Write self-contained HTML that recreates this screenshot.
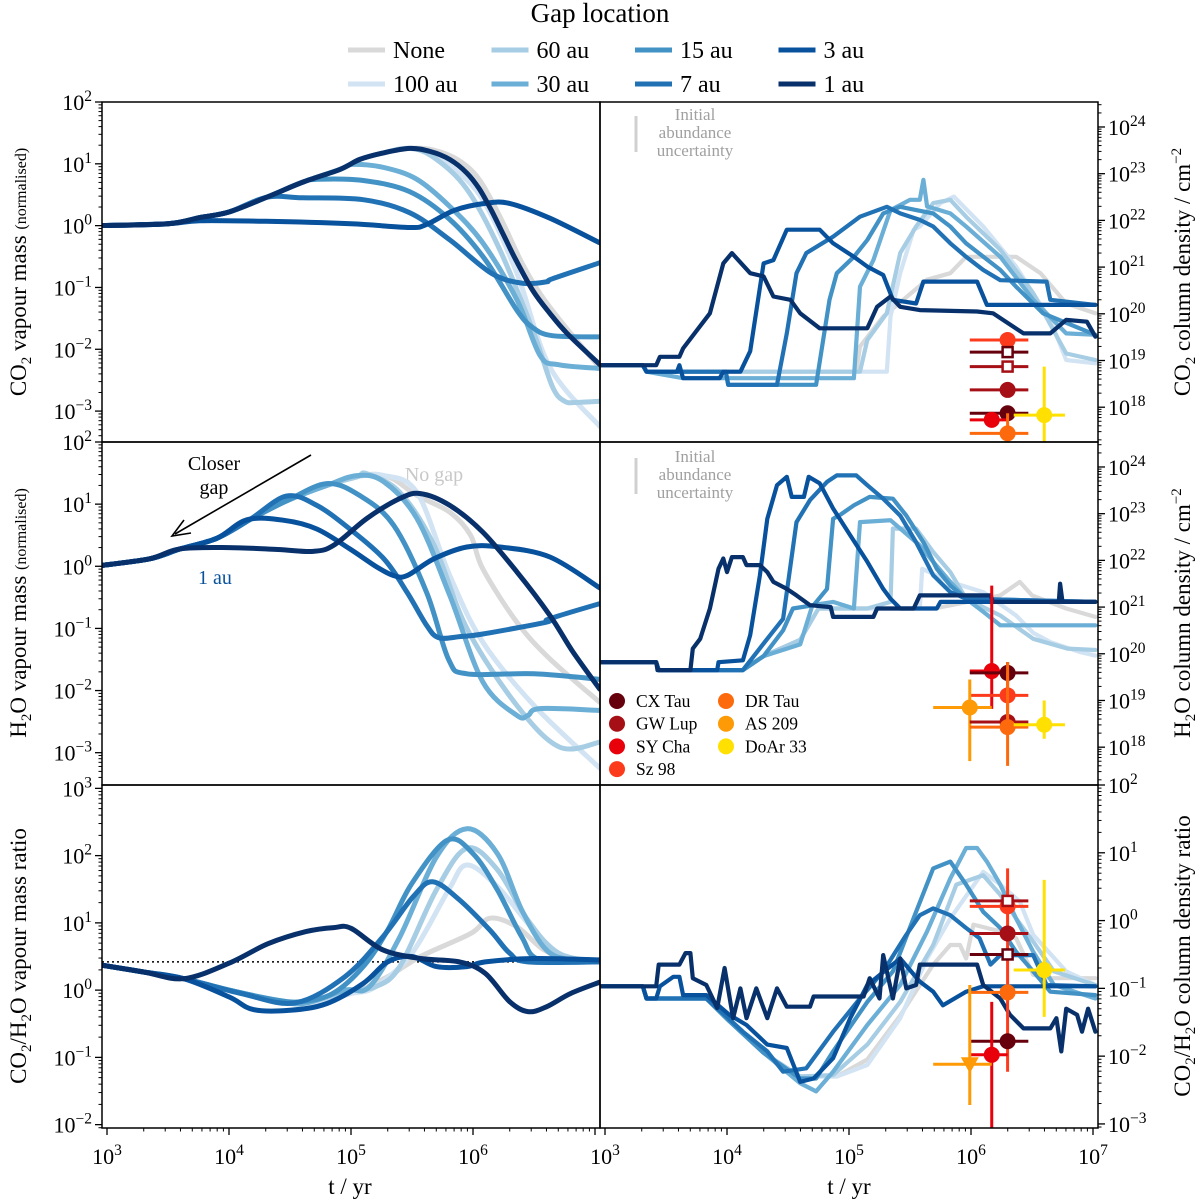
<!DOCTYPE html>
<html><head><meta charset="utf-8">
<style>
html,body{margin:0;padding:0;background:#fff;}
svg{display:block;font-family:"Liberation Serif","DejaVu Serif",serif;}
</style></head>
<body>
<svg id="fig" width="1200" height="1202" viewBox="0 0 1200 1202" xmlns="http://www.w3.org/2000/svg">
<rect x="0" y="0" width="1200" height="1202" fill="#fff"/>
<g id="legend">
<text x="600" y="22" font-size="27" text-anchor="middle">Gap location</text>
</g>
<text x="214" y="470" font-size="20" text-anchor="middle">Closer</text>
<text x="214" y="494" font-size="20" text-anchor="middle">gap</text>
<g>
<line x1="311" y1="455" x2="175" y2="534" stroke="#000" stroke-width="1.6"/>
<polyline points="184,520 172,536 191,533" fill="none" stroke="#000" stroke-width="1.6"/>
</g>
<text x="434" y="481" font-size="20" fill="#c8c8c8" text-anchor="middle">No gap</text>
<text x="215" y="584" font-size="20" fill="#08519c" text-anchor="middle">1 au</text>
<g>
<line x1="636" y1="116" x2="636" y2="152" stroke="#d0d0d0" stroke-width="3"/>
<text x="695" y="120" font-size="17" fill="#a0a0a0" text-anchor="middle">Initial</text>
<text x="695" y="138" font-size="17" fill="#a0a0a0" text-anchor="middle">abundance</text>
<text x="695" y="156" font-size="17" fill="#a0a0a0" text-anchor="middle">uncertainty</text>
</g>
<g>
<line x1="636" y1="458" x2="636" y2="494" stroke="#d0d0d0" stroke-width="3"/>
<text x="695" y="462" font-size="17" fill="#a0a0a0" text-anchor="middle">Initial</text>
<text x="695" y="480" font-size="17" fill="#a0a0a0" text-anchor="middle">abundance</text>
<text x="695" y="498" font-size="17" fill="#a0a0a0" text-anchor="middle">uncertainty</text>
</g>
<g transform="translate(26,272) rotate(-90)"><text text-anchor="middle" font-size="23">CO<tspan font-size="15" dy="5">2</tspan><tspan dy="-5"> vapour mass </tspan><tspan font-size="16">(normalised)</tspan></text></g>
<g transform="translate(26,613) rotate(-90)"><text text-anchor="middle" font-size="23">H<tspan font-size="15" dy="5">2</tspan><tspan dy="-5">O vapour mass </tspan><tspan font-size="16">(normalised)</tspan></text></g>
<g transform="translate(26,956) rotate(-90)"><text text-anchor="middle" font-size="23">CO<tspan font-size="15" dy="5">2</tspan><tspan dy="-5">/H</tspan><tspan font-size="15" dy="5">2</tspan><tspan dy="-5">O vapour mass ratio</tspan></text></g>
<g transform="translate(1190,272) rotate(-90)"><text text-anchor="middle" font-size="23">CO<tspan font-size="15" dy="5">2</tspan><tspan dy="-5"> column density / cm</tspan><tspan font-size="15" dy="-9">−2</tspan></text></g>
<g transform="translate(1190,613) rotate(-90)"><text text-anchor="middle" font-size="23">H<tspan font-size="15" dy="5">2</tspan><tspan dy="-5">O column density / cm</tspan><tspan font-size="15" dy="-9">−2</tspan></text></g>
<g transform="translate(1190,956) rotate(-90)"><text text-anchor="middle" font-size="23">CO<tspan font-size="15" dy="5">2</tspan><tspan dy="-5">/H</tspan><tspan font-size="15" dy="5">2</tspan><tspan dy="-5">O column density ratio</tspan></text></g>
<text x="350" y="1194" font-size="23" text-anchor="middle">t / yr</text>
<text x="849" y="1194" font-size="23" text-anchor="middle">t / yr</text>
</svg>
<script>
// ---- data: [log10 t(yr), log10 value] ----
const seriesNames = ['None','100 au','60 au','30 au','15 au','7 au','3 au','1 au'];
const seriesColors = ['#d9d9d9','#d2e3f3','#a6cde3','#6baed6','#4292c6','#2171b5','#08519c','#08306b'];

const envCO2 = [[2.94,0],[3.5,0.03],[3.76,0.13],[4.0,0.22],[4.31,0.46],[4.6,0.7],[4.91,0.91],[5.07,1.07],[5.25,1.17],[5.48,1.25]];
const co2MassNone = [[5.68,1.22],[5.88,1.06],[6.05,0.75],[6.22,0.15],[6.4,-0.6],[6.55,-1.1],[6.75,-1.62],[7.04,-2.3]];
const co2Mass100 = [[5.65,1.2],[5.81,0.98],[6.08,0.42],[6.36,-0.77],[6.63,-2.29],[7.04,-3.25]];
const co2Mass60 = [[5.68,1.1],[5.95,0.59],[6.22,-0.39],[6.49,-1.69],[6.65,-2.6],[6.75,-2.84],[6.85,-2.86],[7.04,-2.84]];
const co2Mass30 = [[5.02,0.99],[5.27,0.94],[5.54,0.75],[5.81,0.31],[6.08,-0.28],[6.36,-1.2],[6.55,-2.1],[6.7,-2.25],[7.04,-2.31]];
const co2Mass15 = [[4.72,0.75],[5.1,0.73],[5.48,0.55],[5.81,0.1],[6.1,-0.55],[6.36,-1.37],[6.49,-1.65],[6.65,-1.78],[7.04,-1.8]];
const co2Mass7 = [[4.6,0.45],[5.1,0.42],[5.48,0.21],[5.81,-0.23],[6.15,-0.77],[6.4,-0.93],[6.6,-0.91],[6.65,-0.86],[7.04,-0.6]];
const co2Mass3 = [[2.94,0],[3.5,0.03],[3.76,0.08],[4.3,0.07],[5.0,0.03],[5.48,-0.03],[5.62,0.02],[5.85,0.25],[6.1,0.36],[6.3,0.36],[6.63,0.12],[7.04,-0.28]];
const co2Mass1 = [[5.65,1.2],[5.81,1.07],[5.95,0.85],[6.05,0.6],[6.15,0.25],[6.25,-0.15],[6.35,-0.55],[6.49,-1.05],[6.63,-1.42],[6.77,-1.74],[7.04,-2.25]];

const envH2O = [[2.94,0.01],[3.35,0.12],[3.6,0.28],[3.9,0.45],[4.17,0.75],[4.47,1.05],[4.8,1.3],[5.05,1.44],[5.2,1.48]];
const h2oMassNone = [[5.35,1.4],[5.54,1.14],[5.81,0.87],[5.98,0.5],[6.08,-0.04],[6.36,-0.9],[6.63,-1.49],[7.04,-2.19]];
const h2oMass100 = [[5.27,1.46],[5.54,1.19],[5.81,-0.15],[6.08,-1.22],[6.5,-2.24],[7.04,-3.25]];
const h2oMass60 = [[5.13,1.49],[5.40,1.19],[5.68,0.34],[5.95,-1.0],[6.36,-2.24],[6.71,-2.91],[7.04,-2.83]];
const h2oMass30 = [[5.05,1.46],[5.27,1.36],[5.54,0.77],[5.81,-0.47],[6.08,-1.86],[6.36,-2.4],[6.45,-2.4],[6.55,-2.29],[7.04,-2.32]];
const h2oMass15 = [[4.8,1.33],[5.07,1.14],[5.35,0.66],[5.62,-0.42],[5.8,-1.5],[5.95,-1.73],[6.5,-1.73],[7.04,-1.82]];
const h2oMass7 = [[4.47,1.13],[4.72,0.98],[4.99,0.6],[5.27,0.12],[5.46,-0.42],[5.62,-0.95],[5.72,-1.15],[5.9,-1.13],[6.08,-1.09],[6.6,-0.9],[6.62,-0.85],[7.04,-0.6]];
const h2oMass3 = [[4.15,0.75],[4.45,0.74],[4.72,0.6],[4.99,0.28],[5.21,-0.01],[5.35,-0.15],[5.46,-0.15],[5.68,0.12],[5.95,0.31],[6.22,0.31],[6.63,0.15],[7.04,-0.35]];
const h2oMass1 = [[2.94,0.01],[3.35,0.12],[3.6,0.28],[4.0,0.3],[4.4,0.27],[4.69,0.24],[4.86,0.34],[5.13,0.77],[5.4,1.09],[5.57,1.17],[5.81,0.98],[6.08,0.55],[6.36,-0.09],[6.63,-0.79],[6.82,-1.38],[7.04,-1.98]];

const ratioStart = [[2.96,0.37],[3.3,0.27],[3.63,0.17],[4.0,0.0],[4.3,-0.12]];
const ratioMassNone = [[4.6,-0.2],[5.0,-0.05],[5.3,0.2],[5.57,0.5],[5.98,0.84],[6.14,1.07],[6.36,0.94],[6.58,0.6],[6.8,0.45],[7.04,0.42]];
const ratioMass100 = [[4.6,-0.2],[5.0,-0.05],[5.2,0.05],[5.5,0.55],[5.8,1.49],[5.95,1.86],[6.2,1.54],[6.5,0.89],[6.75,0.5],[7.04,0.42]];
const ratioMass60 = [[4.6,-0.2],[5.0,0.0],[5.2,0.05],[5.4,0.35],[5.7,1.49],[5.95,2.11],[6.2,1.79],[6.45,1.04],[6.7,0.55],[7.04,0.42]];
const ratioMass30 = [[4.6,-0.2],[4.95,0.0],[5.15,0.05],[5.4,0.79],[5.7,1.98],[5.95,2.4],[6.2,2.03],[6.4,1.19],[6.6,0.6],[6.8,0.45],[7.04,0.42]];
const ratioMass15 = [[2.96,0.37],[3.3,0.27],[3.63,0.17],[4.0,0.0],[4.4,-0.15],[4.6,-0.17],[4.85,-0.05],[5.1,0.35],[5.3,0.89],[5.5,1.59],[5.79,2.23],[6.0,2.03],[6.2,1.49],[6.4,0.79],[6.55,0.45],[7.04,0.42]];
const ratioMass7 = [[2.96,0.37],[3.3,0.27],[3.63,0.17],[4.1,-0.05],[4.54,-0.19],[4.95,0.2],[5.26,0.79],[5.51,1.39],[5.67,1.61],[5.89,1.34],[6.14,0.89],[6.3,0.55],[6.45,0.42],[7.04,0.42]];
const ratioMass3 = [[2.96,0.37],[3.3,0.27],[3.63,0.17],[4.0,-0.1],[4.2,-0.29],[4.5,-0.3],[4.8,-0.2],[5.1,0.1],[5.3,0.42],[5.5,0.5],[5.7,0.35],[5.95,0.35],[6.1,0.42],[6.5,0.47],[7.04,0.45]];
const ratioMass1 = [[2.96,0.37],[3.3,0.27],[3.63,0.17],[4.0,0.4],[4.32,0.69],[4.63,0.87],[4.86,0.93],[5.0,0.92],[5.26,0.6],[5.57,0.47],[5.89,0.42],[6.1,0.25],[6.3,-0.17],[6.45,-0.32],[6.6,-0.25],[6.8,-0.05],[7.04,0.12]];
const ratioReference = 0.42;

const co2ColNone = [[2.96,18.9],[3.31,18.9],[3.34,18.76],[5.06,18.76],[5.09,19.3],[5.28,19.94],[5.64,20.73],[5.83,20.87],[5.96,21.22],[6.37,21.22],[6.57,20.87],[6.78,20.22],[7.02,20.01]];
const co2Col100 = [[2.96,18.9],[3.31,18.9],[3.34,18.76],[5.31,18.76],[5.34,19.94],[5.42,20.87],[5.53,21.8],[5.58,21.87],[5.75,22.37],[5.86,22.51],[6.1,21.87],[6.37,21.01],[6.65,19.87],[6.78,19.01],[7.02,18.94]];
const co2Col60 = [[2.96,18.9],[3.31,18.9],[3.34,18.76],[5.09,18.76],[5.15,19.44],[5.31,20.01],[5.42,21.3],[5.55,21.87],[5.69,22.37],[5.83,22.44],[5.96,22.08],[6.24,21.37],[6.51,20.44],[6.78,19.15],[7.02,19.01]];
const co2Col30 = [[2.96,18.9],[3.31,18.9],[3.34,18.76],[3.64,18.62],[5.04,18.62],[5.09,20.58],[5.2,21.15],[5.34,22.22],[5.5,22.44],[5.58,22.44],[5.61,22.87],[5.64,22.3],[5.83,22.15],[5.96,21.87],[6.24,21.22],[6.51,20.3],[6.78,19.58],[7.02,19.55]];
const co2Col15 = [[2.96,18.9],[3.31,18.9],[3.34,18.76],[3.99,18.76],[4.01,18.48],[4.73,18.48],[4.84,20.3],[4.9,20.87],[5.04,21.22],[5.15,21.58],[5.28,22.15],[5.42,22.29],[5.55,22.22],[5.69,22.15],[5.83,21.87],[5.96,21.51],[6.24,20.94],[6.37,20.58],[6.59,20.01],[7.02,19.55]];
const co2Col7 = [[2.96,18.9],[3.31,18.9],[3.34,18.76],[3.99,18.76],[4.01,18.48],[4.41,18.48],[4.49,19.58],[4.57,20.87],[4.65,21.3],[4.87,21.65],[5.09,22.08],[5.31,22.29],[5.42,22.15],[5.58,22.01],[5.69,21.87],[5.83,21.51],[5.96,21.22],[6.1,20.94],[6.24,20.72],[6.62,20.69],[6.65,20.3],[7.02,20.19]];
const co2Col3 = [[2.96,18.9],[3.31,18.9],[3.34,18.76],[3.59,18.76],[3.61,18.9],[3.64,18.62],[3.94,18.62],[3.97,18.76],[4.11,18.76],[4.19,19.2],[4.3,21.08],[4.38,21.15],[4.49,21.8],[4.76,21.8],[4.87,21.51],[5.04,21.22],[5.15,21.01],[5.28,20.83],[5.36,20.3],[5.55,20.22],[5.61,20.69],[6.05,20.69],[6.13,20.19],[7.02,20.19]];
const co2Col1 = [[2.96,18.9],[3.42,18.9],[3.45,19.08],[3.61,19.08],[3.64,19.26],[3.86,20.01],[3.97,21.08],[4.04,21.3],[4.19,20.87],[4.3,20.8],[4.38,20.37],[4.52,20.3],[4.6,20.01],[4.76,19.69],[5.15,19.69],[5.23,20.15],[5.34,20.37],[5.42,20.15],[5.58,20.08],[6.05,20.05],[6.18,20.01],[6.43,19.58],[6.65,19.58],[6.78,19.87],[6.95,19.83],[7.02,19.51]];

const h2oColBase = [[2.96,19.82],[3.42,19.82],[3.44,19.65],[4.13,19.65],[4.3,19.95]];
const h2oColNone = [[4.6,20.3],[4.75,20.97],[5.7,20.97],[6.24,21.25],[6.4,21.54],[6.5,21.25],[6.78,20.97],[7.02,20.79]];
const h2oCol100 = [[4.6,20.3],[4.75,20.97],[5.58,20.97],[5.6,21.82],[5.83,21.54],[6.1,21.32],[6.37,20.82],[6.51,20.45],[6.65,20.25],[6.89,20.04],[7.02,19.96]];
const h2oCol60 = [[4.6,20.3],[4.75,20.97],[5.15,20.97],[5.34,21.11],[5.36,22.68],[5.55,22.68],[5.69,22.18],[5.83,21.75],[5.96,21.18],[6.24,20.82],[6.51,20.32],[6.79,20.11],[7.02,20.08]];
const h2oCol30 = [[4.6,20.2],[4.7,21.04],[4.87,21.11],[5.04,20.97],[5.09,22.82],[5.34,22.86],[5.42,22.68],[5.58,22.32],[5.69,21.97],[5.83,21.54],[5.96,21.18],[6.1,20.9],[6.24,20.61],[7.02,20.61]];
const h2oCol15 = [[4.46,20.5],[4.54,20.97],[4.71,21.04],[4.82,21.39],[4.87,22.89],[4.93,22.98],[5.04,23.18],[5.17,23.36],[5.36,23.32],[5.47,22.96],[5.61,22.39],[5.72,21.82],[5.83,21.46],[5.96,21.18],[7.02,21.11]];
const h2oCol7 = [[4.33,20.32],[4.46,20.75],[4.57,22.82],[4.68,23.29],[4.82,23.68],[4.9,23.82],[5.06,23.82],[5.15,23.61],[5.28,23.32],[5.42,22.96],[5.55,22.39],[5.69,21.68],[5.83,21.32],[5.96,21.18],[7.02,21.11]];
const h2oCol3 = [[2.96,19.82],[3.42,19.82],[3.44,19.65],[3.92,19.65],[3.93,19.82],[4.13,19.86],[4.19,20.4],[4.27,21.68],[4.33,22.89],[4.41,23.61],[4.49,23.79],[4.53,23.36],[4.63,23.36],[4.67,23.79],[4.76,23.65],[4.87,23.11],[5.01,22.54],[5.15,21.97],[5.28,21.39],[5.34,21.18],[5.42,20.97],[5.72,20.97],[5.75,21.11],[7.02,21.11]];
const h2oCol1 = [[2.96,19.82],[3.42,19.82],[3.43,19.65],[3.70,19.65],[3.72,20.11],[3.78,20.32],[3.86,20.97],[3.93,21.82],[3.97,22.04],[4.0,21.75],[4.04,22.07],[4.13,22.07],[4.16,21.9],[4.27,21.9],[4.33,21.75],[4.38,21.54],[4.49,21.39],[4.57,21.25],[4.68,21.04],[4.85,21.0],[4.87,20.79],[5.2,20.79],[5.23,20.97],[5.53,20.97],[5.58,21.25],[6.16,21.25],[6.18,21.11],[6.72,21.11],[6.73,21.5],[6.75,21.11],[7.02,21.11]];

const colRatioBase = [[2.96,-0.97],[3.31,-0.97],[3.34,-1.15],[3.83,-1.15],[4.0,-1.45],[4.3,-1.95]];
const colRatioNone = [[4.6,-2.3],[4.9,-2.3],[5.15,-2.05],[5.42,-1.4],[5.69,-0.65],[5.83,-0.36],[5.91,-0.36],[5.96,-0.56],[6.02,-0.06],[6.24,-0.16],[6.37,-0.26],[6.51,-0.8],[6.65,-0.85],[7.02,-0.85]];
const colRatio100 = [[4.6,-2.3],[4.9,-2.3],[5.15,-2.13],[5.42,-1.44],[5.64,-0.56],[5.83,0.03],[6.1,0.72],[6.24,0.53],[6.4,0.28],[6.51,-0.21],[6.78,-0.75],[7.02,-0.95]];
const colRatio60 = [[4.6,-2.3],[4.87,-2.28],[5.15,-1.83],[5.42,-1.2],[5.69,-0.36],[5.88,0.53],[6.1,0.67],[6.24,0.38],[6.37,0.03],[6.51,-0.31],[6.68,-0.75],[7.02,-0.95]];
const colRatio30 = [[4.6,-2.4],[4.73,-2.52],[4.87,-2.23],[5.15,-1.54],[5.42,-0.95],[5.64,-0.16],[5.83,0.62],[5.96,1.07],[6.05,1.07],[6.13,0.87],[6.24,0.53],[6.37,0.03],[6.51,-0.46],[6.68,-0.95],[7.02,-1.15]];
const colRatio15 = [[4.6,-2.33],[4.73,-2.33],[4.87,-1.93],[5.15,-1.2],[5.36,-0.75],[5.55,0.13],[5.69,0.77],[5.83,0.87],[5.96,0.53],[6.1,0.13],[6.24,-0.11],[6.37,-0.46],[6.51,-0.75],[6.65,-1.05],[7.02,-1.1]];
const colRatio7 = [[2.96,-0.97],[3.31,-0.97],[3.34,-1.15],[3.83,-1.15],[3.98,-1.39],[4.13,-1.64],[4.33,-1.93],[4.46,-2.23],[4.65,-2.18],[4.87,-1.64],[5.09,-1.15],[5.28,-0.75],[5.47,-0.21],[5.58,0.08],[5.69,0.18],[5.83,0.08],[5.96,-0.11],[6.07,-0.26],[6.16,-0.65],[6.24,-0.51],[6.51,-0.51],[6.62,-0.95],[7.02,-0.97]];
const colRatio3 = [[2.96,-0.97],[3.31,-0.97],[3.34,-1.15],[3.42,-1.15],[3.45,-0.97],[3.56,-0.83],[3.61,-0.83],[3.64,-1.1],[3.83,-1.1],[4.02,-1.39],[4.16,-1.54],[4.33,-1.83],[4.49,-1.88],[4.6,-2.38],[4.71,-2.33],[4.87,-2.03],[5.01,-1.44],[5.15,-0.95],[5.42,-0.56],[5.58,-0.9],[5.69,-1.05],[5.77,-1.25],[5.96,-1.05],[6.1,-0.97],[7.02,-0.97]];
const colRatio1 = [[2.96,-0.97],[3.42,-0.97],[3.44,-0.65],[3.61,-0.65],[3.66,-0.48],[3.7,-0.48],[3.72,-0.85],[3.83,-0.95],[3.92,-1.29],[3.98,-0.7],[4.05,-1.44],[4.11,-1.0],[4.16,-1.44],[4.24,-1.0],[4.33,-1.44],[4.41,-1.0],[4.49,-1.27],[4.68,-1.27],[4.71,-1.12],[5.12,-1.12],[5.17,-0.85],[5.25,-1.15],[5.28,-0.51],[5.36,-1.15],[5.42,-0.56],[5.47,-1.0],[5.55,-0.95],[5.58,-0.65],[6.05,-0.65],[6.1,-0.95],[6.24,-1.15],[6.32,-1.39],[6.43,-1.59],[6.65,-1.59],[6.7,-1.44],[6.74,-1.93],[6.78,-1.3],[6.87,-1.39],[6.91,-1.64],[6.96,-1.3],[7.02,-1.64]];

// observations
const obsStars = ['CX Tau','GW Lup','SY Cha','Sz 98','DR Tau','AS 209','DoAr 33'];
const obsColors = ['#67000d','#a50f15','#e8000b','#fc3a1c','#fd6a0d','#fd9a05','#ffe000'];
// [star index, log t, log value, log t lo, log t hi, log v lo, log v hi, marker]
const co2Obs = [[3,6.3,19.44,5.99,6.47,null,null,'o'],[0,6.3,19.18,5.99,6.47,null,null,'s'],[1,6.3,18.87,5.99,6.47,null,null,'s'],[1,6.3,18.37,5.99,6.47,null,null,'o'],[0,6.3,17.87,5.99,6.47,null,null,'o'],[2,6.17,17.73,5.99,6.3,null,null,'o'],[4,6.3,17.44,5.99,6.47,17.37,17.87,'o'],[6,6.6,17.83,6.35,6.77,17.2,18.87,'o']];
const h2oObs = [[2,6.17,19.63,5.99,6.29,18.82,21.46,'o'],[0,6.3,19.59,5.99,6.47,19.39,19.82,'o'],[3,6.3,19.11,5.99,6.47,18.6,19.6,'o'],[5,5.99,18.85,5.69,6.17,17.7,19.45,'o'],[1,6.3,18.54,5.99,6.47,null,null,'o'],[4,6.3,18.43,5.99,6.47,17.6,19.82,'o'],[6,6.6,18.48,6.35,6.77,18.18,19.0,'o']];
const ratioObs = [[3,6.3,0.21,5.99,6.47,-2.23,0.77,'o'],[1,6.3,0.29,5.99,6.47,null,null,'s'],[1,6.3,-0.19,5.99,6.47,null,null,'o'],[0,6.3,-0.5,5.99,6.47,null,null,'s'],[4,6.3,-1.06,5.99,6.47,null,null,'o'],[0,6.3,-1.78,5.99,6.47,null,null,'o'],[2,6.17,-1.98,5.99,6.3,-3.2,-1.2,'o'],[5,5.99,-2.12,5.69,6.17,-2.72,-0.95,'v'],[6,6.6,-0.73,6.35,6.77,-1.42,0.6,'o']];

const xTickExps = [3,4,5,6,7];

// ---- drawing ----
const NS='http://www.w3.org/2000/svg';
const svg=document.getElementById('fig');
function el(tag,attrs,parent){const e=document.createElementNS(NS,tag);for(const k in attrs)e.setAttribute(k,attrs[k]);(parent||svg).appendChild(e);return e;}
const LOT=2.959, PXD=122;
function xAxis(x0){return lt=>x0+(lt-LOT)*PXD;}
function yAxis(top,bot,vmin,vmax){return v=>bot-(v-vmin)/(vmax-vmin)*(bot-top);}
const panels=[
 {n:'co2-mass',x0:102,top:102,bot:442,vmin:-3.5,vmax:2,side:'L'},
 {n:'co2-column',x0:600,top:102,bot:442,vmin:17.255,vmax:24.535,side:'R'},
 {n:'h2o-mass',x0:102,top:442,bot:785,vmin:-3.52,vmax:2,side:'L'},
 {n:'h2o-column',x0:600,top:442,bot:785,vmin:17.19,vmax:24.535,side:'R'},
 {n:'ratio-mass',x0:102,top:785,bot:1128,vmin:-2.05,vmax:3.05,side:'L'},
 {n:'ratio-column',x0:600,top:785,bot:1128,vmin:-3.06,vmax:2,side:'R'}];
panels.forEach((p,i)=>{p.X=xAxis(p.x0);p.Y=yAxis(p.top,p.bot,p.vmin,p.vmax);
 const cp=el('clipPath',{id:'clip'+i});el('rect',{x:p.x0,y:p.top,width:498,height:p.bot-p.top},cp);
 p.g=el('g',{'clip-path':'url(#clip'+i+')'});
 
 });

function smoothPath(pts){let d='M'+pts[0][0].toFixed(1)+','+pts[0][1].toFixed(1);
 for(let i=0;i<pts.length-1;i++){const p0=pts[Math.max(i-1,0)],p1=pts[i],p2=pts[i+1],p3=pts[Math.min(i+2,pts.length-1)];
  const c1=[p1[0]+(p2[0]-p0[0])/6,p1[1]+(p2[1]-p0[1])/6],c2=[p2[0]-(p3[0]-p1[0])/6,p2[1]-(p3[1]-p1[1])/6];
  d+=' C'+c1[0].toFixed(1)+','+c1[1].toFixed(1)+' '+c2[0].toFixed(1)+','+c2[1].toFixed(1)+' '+p2[0].toFixed(1)+','+p2[1].toFixed(1);}
 return d;}
function prefixTo(env,t){return env.filter(q=>q[0]<t);}
function drawSeries(p,data,idx,smooth,name){
 const pts=data.map(q=>[p.X(q[0]),p.Y(q[1])]);
 const d=smooth?smoothPath(pts):'M'+pts.map(q=>q[0].toFixed(1)+','+q[1].toFixed(1)).join(' L');
 const e=el('path',{d:d,fill:'none',stroke:seriesColors[idx],'stroke-width':smooth?5:4.2,'stroke-linejoin':'round','stroke-linecap':'round'},p.g);
 
 }

const co2MassSets=[envCO2.concat(co2MassNone),envCO2.concat(co2Mass100),envCO2.concat(co2Mass60),prefixTo(envCO2,5.0).concat(co2Mass30),prefixTo(envCO2,4.7).concat(co2Mass15),prefixTo(envCO2,4.4).concat(co2Mass7),co2Mass3,envCO2.concat(co2Mass1)];
const h2oMassSets=[envH2O.concat(h2oMassNone),prefixTo(envH2O,5.1).concat(h2oMass100),prefixTo(envH2O,5.1).concat(h2oMass60),prefixTo(envH2O,5.0).concat(h2oMass30),prefixTo(envH2O,4.7).concat(h2oMass15),prefixTo(envH2O,4.4).concat(h2oMass7),prefixTo(envH2O,4.0).concat(h2oMass3),h2oMass1];
const ratioMassSets=[ratioStart.concat(ratioMassNone),ratioStart.concat(ratioMass100),ratioStart.concat(ratioMass60),ratioStart.concat(ratioMass30),ratioMass15,ratioMass7,ratioMass3,ratioMass1];
const co2ColSets=[co2ColNone,co2Col100,co2Col60,co2Col30,co2Col15,co2Col7,co2Col3,co2Col1];
const h2oColSets=[h2oColBase.concat(h2oColNone),h2oColBase.concat(h2oCol100),h2oColBase.concat(h2oCol60),h2oColBase.concat(h2oCol30),h2oColBase.concat(h2oCol15),h2oColBase.slice(0,4).concat(h2oCol7),h2oCol3,h2oCol1];
const colRatioSets=[colRatioBase.concat(colRatioNone),colRatioBase.concat(colRatio100),colRatioBase.concat(colRatio60),colRatioBase.concat(colRatio30),colRatioBase.concat(colRatio15),colRatio7,colRatio3,colRatio1];

// reference dotted line
const rl=el('line',{x1:102,x2:600,y1:panels[4].Y(ratioReference),y2:panels[4].Y(ratioReference),stroke:'#000','stroke-width':1.6,'stroke-dasharray':'2,3'},panels[4].g);



const slug=s=>s.toLowerCase().replace(/ /g,'-');
for(let k=0;k<8;k++){
 drawSeries(panels[0],co2MassSets[k],k,true,'co2-mass-'+slug(seriesNames[k]));
 drawSeries(panels[2],h2oMassSets[k],k,true,'h2o-mass-'+slug(seriesNames[k]));
 drawSeries(panels[4],ratioMassSets[k],k,true,'ratio-mass-'+slug(seriesNames[k]));
 drawSeries(panels[1],co2ColSets[k],k,false,'co2-column-'+slug(seriesNames[k]));
 drawSeries(panels[3],h2oColSets[k],k,false,'h2o-column-'+slug(seriesNames[k]));
 drawSeries(panels[5],colRatioSets[k],k,false,'ratio-column-'+slug(seriesNames[k]));
}

function drawObs(p,list,prefix){
 list.forEach(o=>{const c=obsColors[o[0]],x=p.X(o[1]),y=p.Y(o[2]);
  const g=el('g',{},p.g);
  
  
  el('line',{x1:p.X(o[3]),x2:p.X(o[4]),y1:y,y2:y,stroke:c,'stroke-width':3},g);
  if(o[5]!==null)el('line',{x1:x,x2:x,y1:p.Y(o[5]),y2:p.Y(o[6]),stroke:c,'stroke-width':3},g);
  if(o[7]==='o')el('circle',{cx:x,cy:y,r:8,fill:c},g);
  else if(o[7]==='s')el('rect',{x:x-5,y:y-5,width:10,height:10,fill:'#fff',stroke:c,'stroke-width':2.5},g);
  else el('polygon',{points:(x-9)+','+(y-7)+' '+(x+9)+','+(y-7)+' '+x+','+(y+9),fill:c},g);
 });}
drawObs(panels[1],co2Obs,'co2-obs');
drawObs(panels[3],h2oObs,'h2o-obs');
drawObs(panels[5],ratioObs,'ratio-obs');

// star legend inside middle-right
const sl=el('g',{});


const legPos=[[0,0],[0,1],[0,2],[0,3],[1,0],[1,1],[1,2]];
obsStars.forEach((s,i)=>{const cx=617+legPos[i][0]*109,cy=701+legPos[i][1]*22.7;
 const g=el('g',{},sl);
 
 
 el('circle',{cx:cx,cy:cy,r:8,fill:obsColors[i]},g);
 const t=el('text',{x:cx+19,y:cy+6,'font-size':17.5},g);t.textContent=s;});

// spines
panels.forEach(p=>{const r=el('rect',{x:p.x0,y:p.top,width:498,height:p.bot-p.top,fill:'none',stroke:'#000','stroke-width':1.5});
 
 });

// y axes
function labelText(x,y,exp,anchor,g){const t=el('text',{x:x,y:y,'font-size':22,'text-anchor':anchor},g);
 const a=document.createElementNS(NS,'tspan');a.textContent='10';t.appendChild(a);
 const b=document.createElementNS(NS,'tspan');b.setAttribute('font-size','15.5');b.setAttribute('dy','-9');b.textContent=(exp<0?'−'+(-exp):String(exp));t.appendChild(b);return t;}
panels.forEach(p=>{const g=el('g',{});
 
 
 const left=p.side==='L',xs=left?p.x0:1098,dir=left?-1:1;
 for(let e=Math.floor(p.vmin);e<=Math.ceil(p.vmax);e++){
  for(let k=1;k<10;k++){const v=e+Math.log10(k);if(v<p.vmin-1e-6||v>p.vmax+1e-6)continue;const y=p.Y(v);
   el('line',{x1:xs,x2:xs+dir*(k===1?7:3.5),y1:y,y2:y,stroke:'#000','stroke-width':k===1?1.3:1},g);
   if(k===1)labelText(left?xs-10:xs+10,y+8,e,left?'end':'start',g);}}
});
// x axes
[panels[4],panels[5]].forEach((p,j)=>{const g=el('g',{});
 
 
 xTickExps.forEach(e=>{for(let k=1;k<10;k++){const lt=e+Math.log10(k);if(lt<LOT||lt>LOT+498/PXD)continue;const x=p.X(lt);
   el('line',{x1:x,x2:x,y1:1128,y2:1128+(k===1?7:3.5),stroke:'#000','stroke-width':k===1?1.3:1},g);
   if(k===1&&!(j===0&&e===7))labelText(x,1164,e,'middle',g);}});
});

// top legend
const lg=document.getElementById('legend');
const legSlots=[[0,0],[0,1],[1,0],[1,1],[2,0],[2,1],[3,0],[3,1]];
seriesNames.forEach((s,i)=>{const col=legSlots[i][0],row=legSlots[i][1];
 const x=348+col*143.5,y=50+row*34;
 const g=el('g',{},lg);
 
 
 el('line',{x1:x,x2:x+37,y1:y,y2:y,stroke:seriesColors[i],'stroke-width':5},g);
 const t=el('text',{x:x+45,y:y+8,'font-size':24},g);t.textContent=s;});
</script>
</body></html>
